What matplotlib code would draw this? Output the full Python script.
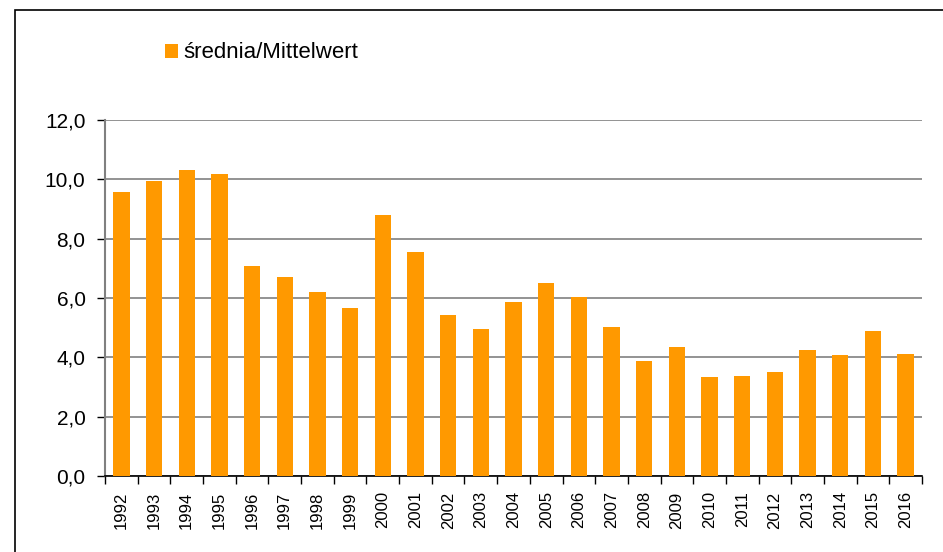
import matplotlib.pyplot as plt
from matplotlib.patches import Rectangle
import numpy as np

years = [str(y) for y in range(1992, 2017)]
values = [9.57, 9.94, 10.31, 10.18, 7.08, 6.71, 6.20, 5.66, 8.80, 7.55,
          5.43, 4.95, 5.86, 6.50, 6.03, 5.02, 3.88, 4.35, 3.34, 3.37,
          3.51, 4.25, 4.08, 4.89, 4.11]
y_ticks = [0, 2, 4, 6, 8, 10, 12]
y_labels = ['0,0', '2,0', '4,0', '6,0', '8,0', '10,0', '12,0']
bar_color = '#FF9900'

plt.rcParams['font.family'] = ['Liberation Sans', 'DejaVu Sans']

W, H = 943, 552
fig = plt.figure(figsize=(W / 100, H / 100), dpi=100)

# outer frame (cut off at right and bottom like the screenshot)
fig.patches.append(Rectangle((15 / W, -0.1), 1.2, 1 - 10 / H + 0.1,
                             transform=fig.transFigure, fill=False,
                             edgecolor='black', linewidth=1.2))

ax = fig.add_axes([105 / W, 1 - 476 / H, (922 - 105) / W, (476 - 120) / H])
x = np.arange(len(years))
ax.bar(x, values, width=0.5, color=bar_color, zorder=3, label='średnia/Mittelwert')

ax.set_xlim(-0.5, len(years) - 0.5)
ax.set_ylim(0, 12)
ax.set_yticks(y_ticks)
ax.set_yticklabels(y_labels, fontsize=15)
ax.yaxis.grid(True, color='#808080', linewidth=1.2, zorder=0)
ax.tick_params(axis='y', direction='out', length=6, width=1, pad=8)

ax.set_xticks(x)
ax.set_xticklabels(years, rotation=90, fontsize=12)
ax.set_xticks(np.arange(-0.5, len(years)), minor=True)
ax.tick_params(axis='x', which='major', length=0, pad=11)
ax.tick_params(axis='x', which='minor', direction='out', length=6, width=1)

for side in ['top', 'right']:
    ax.spines[side].set_visible(False)
ax.spines['left'].set_color('#808080')
ax.spines['left'].set_linewidth(1.5)
ax.spines['bottom'].set_color('black')
ax.spines['bottom'].set_linewidth(1.2)

fig.legend(loc='center left', bbox_to_anchor=(156 / W, 1 - 53 / H),
           frameon=False, fontsize=16, handlelength=0.6, handleheight=0.6,
           handletextpad=0.25, borderaxespad=0)

fig.savefig('out.png', dpi=100)
